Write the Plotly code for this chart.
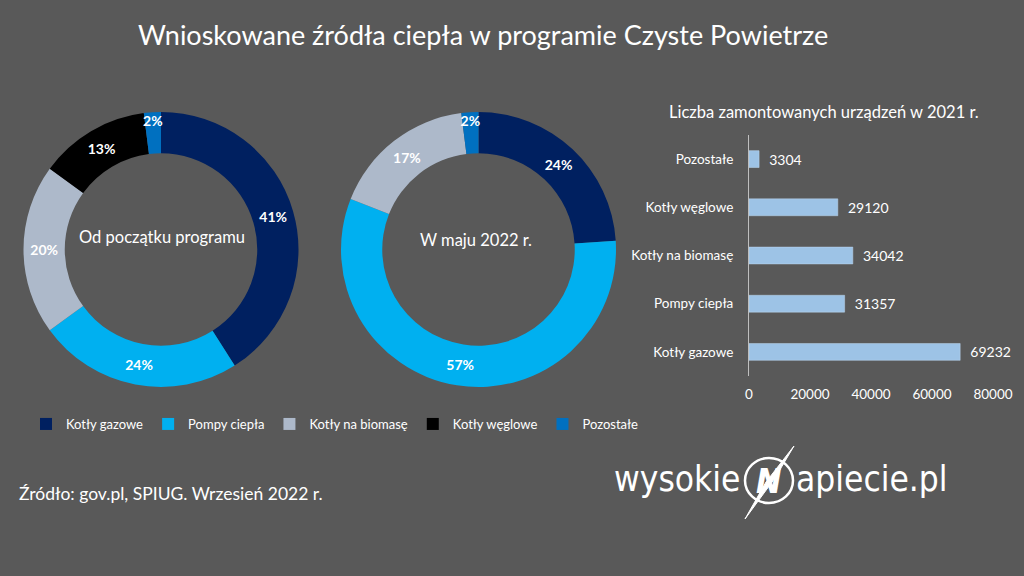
import plotly.graph_objects as go

W, H = 1024, 576
FONT = "Lato"
LOGO_FONT = "Liberation Sans Narrow, DejaVu Sans Condensed, Roboto"

categories = ["Kotły gazowe", "Pompy ciepła", "Kotły na biomasę", "Kotły węglowe", "Pozostałe"]
colors = ["#002060", "#00B0F0", "#ADB9CA", "#000000", "#0070C0"]
share_since_start = [41, 24, 20, 13, 2]
share_may_2022 = [24, 57, 17, 0, 2]
installed_2021 = [69232, 31357, 34042, 29120, 3304]
x_ticks = [0, 20000, 40000, 60000, 80000]


def px(x):
    return x / W


def py(y):
    return 1 - y / H


def templates(labels):
    # the narrow "Pozostałe" slice label sits a bit lower, as in the source
    return ["<br>%{value}%" if l == "Pozostałe" else "%{value}%" for l in labels]


fig = go.Figure()

pct_font = dict(color="white", size=14, family=FONT, weight="bold")

# Donut 1
fig.add_trace(go.Pie(
    labels=categories, values=share_since_start,
    marker=dict(colors=colors, line=dict(width=0)),
    hole=0.70, sort=False, direction="clockwise", rotation=0,
    texttemplate=templates(categories), textposition="inside",
    insidetextorientation="horizontal",
    textfont=pct_font,
    domain=dict(x=[px(23), px(299)], y=[py(387), py(112)]),
    showlegend=True,
))

# Donut 2 (zero slices left out)
m_labels = [c for c, v in zip(categories, share_may_2022) if v > 0]
m_values = [v for v in share_may_2022 if v > 0]
m_colors = [col for col, v in zip(colors, share_may_2022) if v > 0]
fig.add_trace(go.Pie(
    labels=m_labels, values=m_values,
    marker=dict(colors=m_colors, line=dict(width=0)),
    hole=0.70, sort=False, direction="clockwise", rotation=0,
    texttemplate=templates(m_labels), textposition="inside",
    insidetextorientation="horizontal",
    textfont=pct_font,
    domain=dict(x=[px(340), px(617)], y=[py(387), py(112)]),
    showlegend=False,
))

# Bar chart
fig.add_trace(go.Bar(
    x=installed_2021, y=categories, orientation="h",
    marker=dict(color="#9DC3E6", line=dict(color="#BDD7EE", width=0.5)),
    width=0.35,
    text=["\u00a0\u00a0" + str(v) for v in installed_2021], textposition="outside",
    textfont=dict(color="white", size=13.5, family=FONT),
    cliponaxis=False, showlegend=False, hoverinfo="x+y",
))

fig.update_layout(
    width=W, height=H,
    margin=dict(l=0, r=0, t=0, b=0),
    paper_bgcolor="#595959", plot_bgcolor="#595959",
    font=dict(family=FONT, color="white"),
    uniformtext=dict(minsize=14, mode="show"),
    xaxis=dict(domain=[px(749), px(993)], range=[0, 80000], tickvals=x_ticks,
               tickformat="d", showgrid=False, zeroline=False, showline=False,
               ticks="", tickfont=dict(color="white", size=13.5, family=FONT),
               ticklabelstandoff=8, fixedrange=True, automargin=False),
    yaxis=dict(domain=[py(376), py(135)], range=[-0.5, 4.5], showgrid=False,
               zeroline=False, showline=True, linecolor="#BFBFBF", linewidth=1,
               ticks="", tickfont=dict(color="white", size=13.5, family=FONT),
               ticklabelstandoff=12, fixedrange=True, automargin=False),
    legend=dict(orientation="h", x=px(26), xanchor="left", y=py(424), yanchor="middle",
                font=dict(color="white", size=13, family=FONT),
                bgcolor="rgba(0,0,0,0)", itemclick=False, itemdoubleclick=False,
                tracegroupgap=0, itemwidth=30),
    bargap=0.65,
)

annotations = [
    dict(text="Wnioskowane źródła ciepła w programie Czyste Powietrze",
         x=px(483), y=py(35), font=dict(size=27, color="white", family=FONT)),
    dict(text="Od początku programu", x=px(162), y=py(237),
         font=dict(size=16.5, color="white", family=FONT)),
    dict(text="W maju 2022 r.", x=px(476), y=py(240),
         font=dict(size=16.5, color="white", family=FONT)),
    dict(text="Liczba zamontowanych urządzeń w 2021 r.", x=px(824), y=py(112),
         font=dict(size=16.5, color="white", family=FONT)),
    dict(text="Źródło: gov.pl, SPIUG. Wrzesień 2022 r.", x=px(17), y=py(493),
         xanchor="left", font=dict(size=17.5, color="white", family=FONT)),
    dict(text="wysokie", x=px(742), y=py(479), xanchor="right",
         font=dict(size=35, color="white", family=LOGO_FONT)),
    dict(text="apiecie.pl", x=px(794), y=py(479), xanchor="left",
         font=dict(size=35, color="white", family=LOGO_FONT)),
    dict(text="<b><i>N</i></b>", x=px(769), y=py(481),
         font=dict(size=34, color="white", family=LOGO_FONT)),
]
for a in annotations:
    a.setdefault("xref", "paper")
    a.setdefault("yref", "paper")
    a.setdefault("showarrow", False)
    a.setdefault("yanchor", "middle")
    a.setdefault("xanchor", "center")
fig.update_layout(annotations=annotations)

# Logo circle and lightning stroke
fig.add_shape(type="circle", xref="paper", yref="paper",
              x0=px(745), x1=px(793), y0=py(503), y1=py(458),
              line=dict(color="white", width=2.5))
bolt = "M {} {} L {} {} L {} {} L {} {} Z".format(
    px(794), py(446), px(775), py(478), px(745), py(519), px(766), py(482))
fig.add_shape(type="path", xref="paper", yref="paper", path=bolt,
              fillcolor="white", line=dict(color="white", width=1))

fig.write_html("out.html")
